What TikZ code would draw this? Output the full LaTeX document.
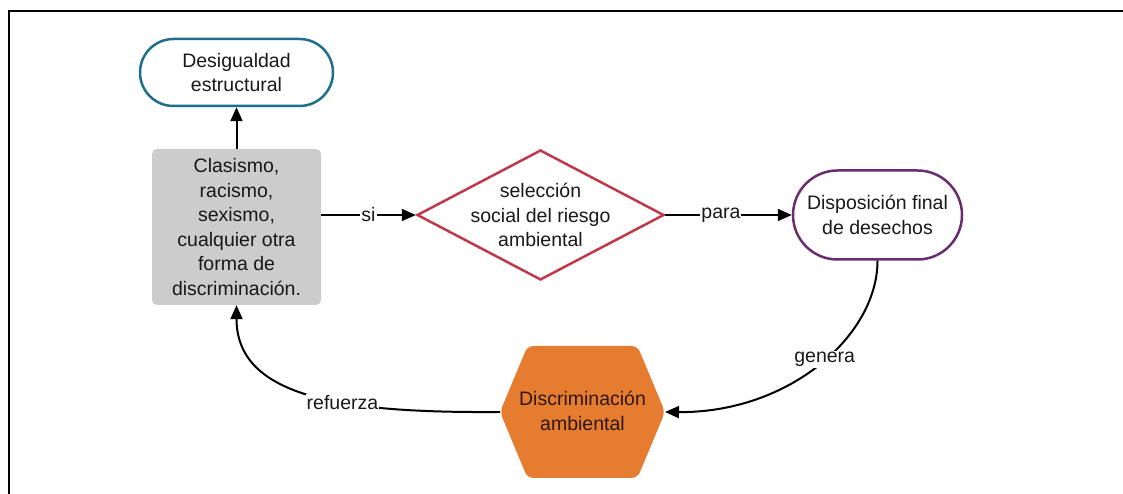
\documentclass[tikz,border=0pt]{standalone}
\usepackage{fontspec}
\setmainfont{Liberation Sans}
\usetikzlibrary{shapes.geometric,arrows.meta}
\definecolor{teal1}{RGB}{31,110,140}
\definecolor{purp1}{RGB}{106,44,112}
\definecolor{red1}{RGB}{192,57,75}
\definecolor{orange1}{RGB}{230,124,48}
\definecolor{gray1}{RGB}{204,204,204}
\definecolor{txt}{RGB}{25,25,25}
\definecolor{hextxt}{RGB}{45,22,10}
\tikzset{
  every node/.style={font=\fontsize{19.5}{24.5}\selectfont, text=txt},
  stadium/.style={draw, line width=2.5pt, fill=white, align=center, inner sep=0pt},
  conn/.style={line width=2pt, -{Triangle[length=14pt,width=12pt]}},
  lbl/.style={fill=white, inner sep=1pt}
}
\begin{document}
\begin{tikzpicture}[x=1pt,y=1pt]
\useasboundingbox (0,0) rectangle (1123,494);
% frame
\draw[line width=2.2pt] (9,0) -- (9,483) -- (1123,483);
% nodes
\node[stadium, draw=teal1, minimum width=193pt, minimum height=67pt, rounded corners=33.5pt] (des) at (236.5,421.5) {Desigualdad\\estructural};
\node[fill=gray1, rounded corners=5pt, minimum width=169pt, minimum height=156pt, align=center, inner sep=0pt] (box) at (236.5,267) {Clasismo,\\racismo,\\sexismo,\\cualquier otra\\forma de\\discriminación.};
\node[diamond, draw=red1, line width=2.5pt, fill=white, minimum width=247pt, minimum height=130pt, inner sep=0pt] (dia) at (540.5,279) {};
\node[align=center] (diat) at (dia.center) {selección\\social del riesgo\\ambiental};
\node[stadium, draw=purp1, minimum width=169pt, minimum height=89pt, rounded corners=44.5pt] (disp) at (877.5,279) {Disposición final\\de desechos};
\fill[orange1, rounded corners=6pt] (500,82) -- (527.5,148) -- (637.5,148) -- (665,82) -- (637.5,16) -- (527.5,16) -- cycle;
\coordinate (hexW) at (500,82);
\coordinate (hexE) at (665,82);
\node[align=center, text=hextxt] (hex) at (582.5,83) {Discriminación\\ambiental};
% connectors
\draw[conn] (box.north) -- (des.south);
\draw[conn] (box.east |- dia.west) -- node[lbl] {si} (dia.west);
\draw[conn] (dia.east) -- node[lbl, pos=0.44] {para} (disp.west);
\draw[conn] (disp.south) .. controls (877.5,159) and (790,81) .. node[lbl, pos=0.47] {genera} (hexE);
\draw[conn] (hexW) .. controls (350,81) and (236.5,94) .. node[lbl, pos=0.4] {refuerza} (box.south);
\end{tikzpicture}
\end{document}
